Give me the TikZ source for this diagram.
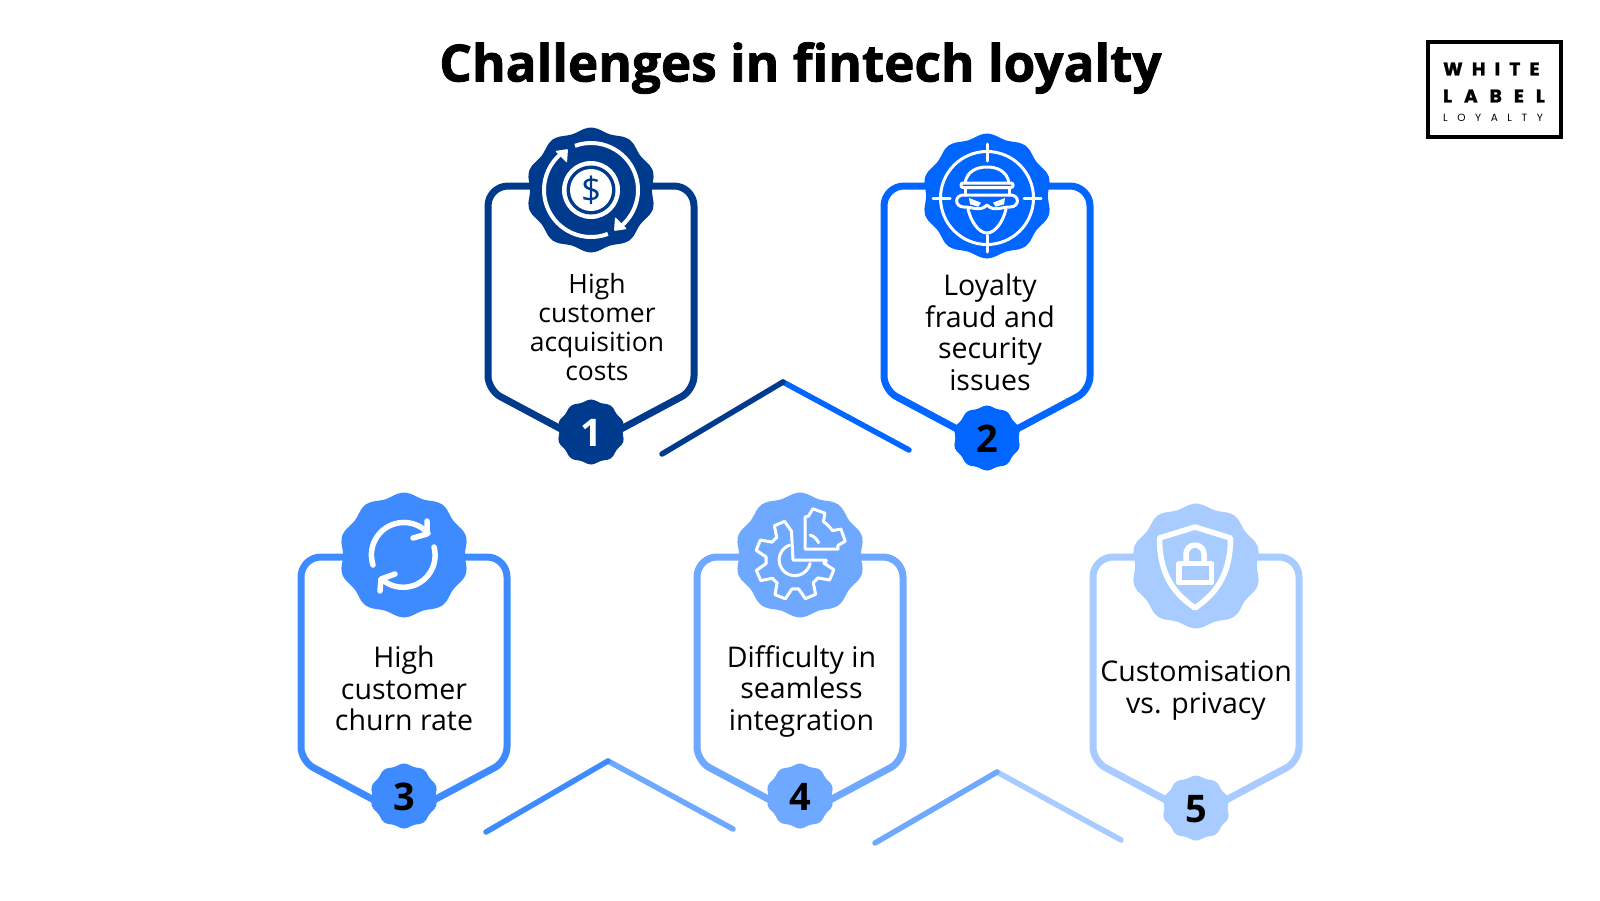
\documentclass[tikz,border=0pt]{standalone}
\usepackage{fontspec}
\setmainfont{Open Sans}
\newfontfamily\logofont{Poppins}
\newfontfamily\titlefont{Open Sans}[BoldFeatures={FakeBold=1.6}]
\definecolor{cone}{HTML}{003A8C}
\definecolor{ctwo}{HTML}{0066FF}
\definecolor{cthree}{HTML}{3D8BFF}
\definecolor{cfour}{HTML}{6EA9FF}
\definecolor{cfive}{HTML}{A8CCFF}
\newcommand{\seal}[4]{\fill[#4] plot[smooth cycle,samples at={0,6,...,354}]
    ({#1+1.04*(#3-#3*0.033*cos(10*\x))*cos(\x)},{#2+(#3-#3*0.033*cos(10*\x))*sin(\x)});}
\tikzset{
    panel/.style={line width=7pt,line join=round},
    chevron/.style={line width=5.5pt,line cap=round},
    paneltext/.style={align=center,font=\fontsize{28.5}{31.6}\selectfont},
    numtext/.style={font=\fontsize{38}{38}\selectfont\bfseries},
    iconline/.style={white,line width=3.5pt,line cap=round,line join=round},
    logotext/.style={anchor=west,inner sep=0pt}
}
\begin{document}
\begin{tikzpicture}[x=1pt,y=-1pt]
    \useasboundingbox (0,0) rectangle (1600,900);
    \node[font=\titlefont\fontsize{51.3}{51.3}\selectfont\bfseries] (title) at (800.5,68) {Challenges in fintech loyalty};
    \foreach \px/\py/\bigy/\smally/\col/\name in {591/186/190/432/cone/one,987/186/196/438/ctwo/two,
        404/557/555/796/cthree/three,800/557/555/796/cfour/four,1196/557/566/808/cfive/five}{
        \coordinate (tip\name) at (\px,\py+259);
        \draw[panel,\col] (tip\name) [rounded corners=14pt] -- (\px-103,\py+204) [rounded corners=20pt] -- (\px-103,\py) -- (\px+103,\py)
            [rounded corners=14pt] -- (\px+103,\py+204) [sharp corners] -- cycle;
        \seal{\px}{\bigy}{60.5}{\col}
        \seal{\px}{\smally}{31.5}{\col}
    }
    \node[numtext,white] (num1) at (591,433) {1};
    \node[numtext] (num2) at (987,439) {2};
    \node[numtext] (num3) at (404,797) {3};
    \node[numtext] (num4) at (800,797) {4};
    \node[numtext] (num5) at (1196,809) {5};
    \node[paneltext,font=\fontsize{26.5}{29}\selectfont] (text1) at (597,327) {High\\customer\\acquisition\\costs};
    \node[paneltext] (text2) at (990,332.5) {Loyalty\\fraud and\\security\\issues};
    \node[paneltext] (text3) at (404,688.5) {High\\customer\\churn rate};
    \node[paneltext] (text4) at (801.5,691.5) {Difficulty in\\seamless\\integration};
    \node[paneltext] (text5) at (1196,690.5) {Customisation\\vs. privacy};
    \foreach \ax/\ay/\bx/\by/\cx/\cy/\lcol/\rcol/\name in {662/454/783/382/909/450/cone/ctwo/a,
        486/832/608/761/733/829/cthree/cfour/b,875/843/997/772/1121/840/cfour/cfive/c}{
        \coordinate (start\name) at (\ax,\ay);
        \coordinate (apex\name) at (\bx,\by);
        \coordinate (end\name) at (\cx,\cy);
        \draw[chevron,\rcol] (apex\name) -- (end\name);
        \draw[chevron,\lcol] (start\name) -- (apex\name);
    }
    \begin{scope}[shift={(591,190)},y=1pt,iconline/.append style={line cap=butt,line width=4pt}]
        \draw[iconline] (110:47) arc[start angle=110,end angle=-48,radius=47];
        \draw[iconline] (-69:47) arc[start angle=-69,end angle=-228,radius=47];
        \fill[white,rounded corners=1pt] (-23,41) -- (-36,39) -- (-24,27) -- cycle;
        \fill[white,rounded corners=1pt] (23,-41) -- (36,-39) -- (24,-27) -- cycle;
        \fill[white] (0,0) circle[radius=29];
        \fill[cone] (0,0) circle[radius=24.5];
        \fill[white] (0,0) circle[radius=21];
        \node[cone,font=\fontsize{35}{35}\selectfont] (dollar) at (0,0) {\$};
    \end{scope}
    \begin{scope}[shift={(987,198)},y=1pt,iconline/.append style={line width=3pt}]
        \draw[iconline] (0,0) circle[radius=46.5];
        \foreach \a in {0,90,180,270}{
            \draw[iconline] (\a:37) -- (\a:54);
        }
        \draw[iconline] (-22,15) .. controls (-20,27) and (-10,31) .. (0,31) .. controls (10,31) and (20,27) .. (22,15);
        \draw[iconline,rounded corners=2pt] (-26,15) rectangle (26,10.5);
        \draw[iconline] (-22,10.5) -- (-22,3);
        \draw[iconline] (22,10.5) -- (22,3);
        \draw[iconline] (-22,3) -- (22,3) .. controls (33,4) and (33,-9) .. (23,-9) .. controls (14,-9) and (7,-14) .. (0,-7)
            .. controls (-7,-14) and (-14,-9) .. (-23,-9) .. controls (-33,-9) and (-33,4) .. (-22,3) -- cycle;
        \draw[iconline] (-19,-11) .. controls (-16,-24) and (-8,-35) .. (0,-35) .. controls (8,-35) and (16,-24) .. (19,-11);
        \fill[white] (-18,0) -- (-6,-4.7) -- (-8.7,-8.7) -- (-17,-6.3) -- cycle;
        \fill[white] (18,0) -- (6,-4.7) -- (8.7,-8.7) -- (17,-6.3) -- cycle;
    \end{scope}
    \begin{scope}[shift={(404,555)},y=1pt,iconline/.append style={line width=5.5pt}]
        \draw[iconline] (-31,-10) arc[start angle=198,end angle=42,radius=32.5];
        \draw[iconline] (23,34) -- (23,21) -- (9,17);
        \draw[iconline] (30,8) arc[start angle=15,end angle=-130,radius=32];
        \draw[iconline] (-24,-36) -- (-23,-24) -- (-9,-19);
    \end{scope}
    \begin{scope}[shift={(795,560)},y=1pt,iconline/.append style={line width=3pt}]
        \foreach \a in {113,158,203,248,293,338}{
            \draw[iconline] (\a-16:29) -- (\a-8:40) -- (\a+8:40) -- (\a+16:29);
        }
        \foreach \a in {129,174,219,264,309}{
            \draw[iconline] (\a:29) arc[start angle=\a,end angle=\a+13,radius=29];
        }
        \draw[iconline] (97:29) -- (-2,0) -- (31,0) -- (31,-2) -- (354:29);
        \draw[iconline] (-5,15) arc[start angle=108,end angle=347,radius=15.7];
        \begin{scope}[shift={(10,11)}]
            \draw[iconline] (84:33) -- (0,32) -- (0,0) -- (33,0) -- (6:33);
            \foreach \a in {20,70}{
                \draw[iconline] (\a-14:33) -- (\a-9:41) -- (\a+9:41) -- (\a+14:33);
            }
            \draw[iconline] (34:33) arc[start angle=34,end angle=56,radius=33];
            \draw[iconline] (25:15) arc[start angle=25,end angle=70,radius=15];
        \end{scope}
    \end{scope}
    \begin{scope}[shift={(1195,566)},y=1pt,iconline/.append style={line width=5.5pt,line cap=butt}]
        \draw[iconline] (0,39) -- (-35.5,28) .. controls (-35.5,-10) and (-20,-28) .. (0,-42)
            .. controls (20,-28) and (35.5,-10) .. (35.5,28) -- cycle;
        \draw[iconline] (-16,2.3) rectangle (16.5,-16.7);
        \draw[iconline] (-9,2.3) -- (-9,12) arc[start angle=180,end angle=0,radius=9] -- (9,2.3);
    \end{scope}
    \node[draw,line width=4pt,minimum width=133pt,minimum height=95pt] (logo) at (1494.5,89) {};
    \node[logotext,font=\logofont\fontsize{18.5}{18.5}\selectfont\bfseries\addfontfeatures{LetterSpace=50,FakeBold=1.5}] (white) at (1443,69) {WHITE};
    \node[logotext,font=\logofont\fontsize{18.5}{18.5}\selectfont\bfseries\addfontfeatures{LetterSpace=65,FakeBold=1.5}] (label) at (1443,96) {LABEL};
    \node[logotext,font=\logofont\fontsize{10.5}{10.5}\selectfont\addfontfeatures{LetterSpace=91}] (loyalty) at (1443,118) {LOYALTY};
\end{tikzpicture}
\end{document}
